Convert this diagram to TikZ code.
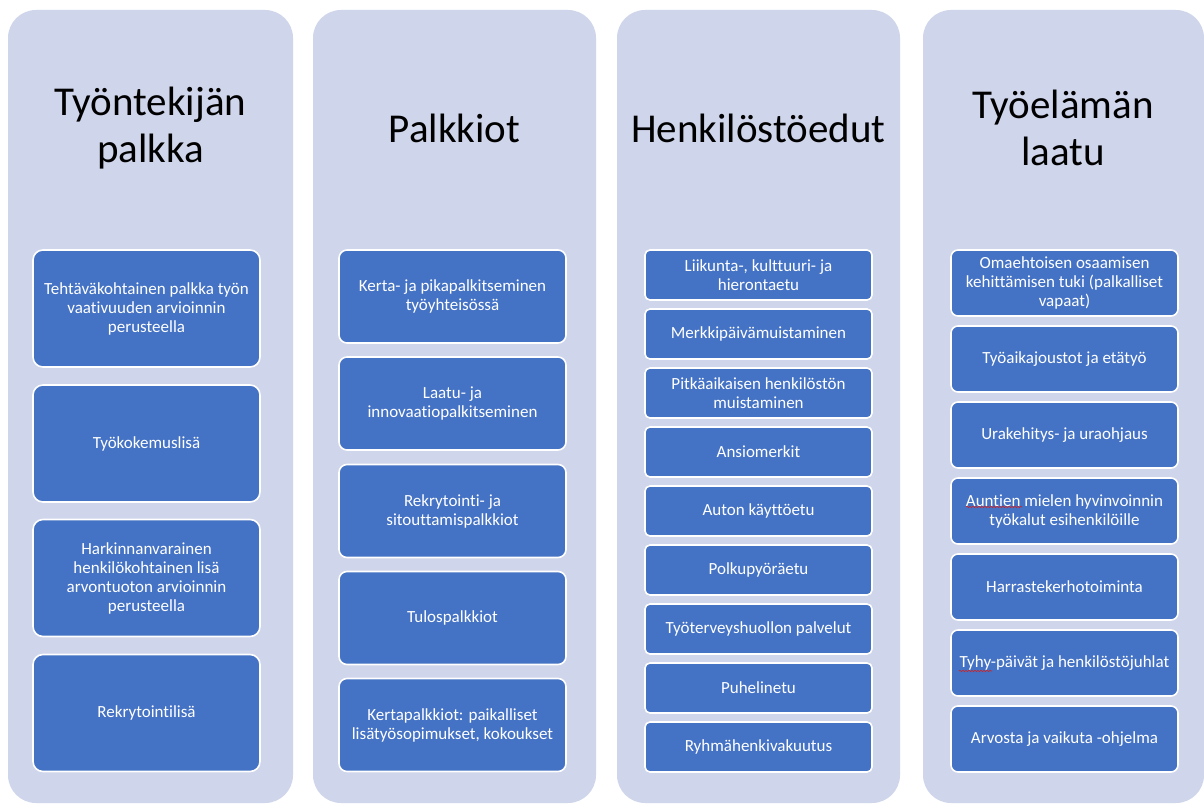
\documentclass[tikz,border=0pt]{standalone}
\usepackage{fontspec}
\setmainfont{Carlito}[Ligatures=NoCommon]
\usetikzlibrary{decorations.pathmorphing}
\definecolor{colbg}{HTML}{CFD5EA}
\definecolor{boxblue}{HTML}{4472C4}
\definecolor{spellred}{HTML}{D02020}
\tikzset{
  colbox/.style={fill=colbg, rounded corners=28pt},
  head/.style={align=center, text=black, font=\fontsize{41}{47}\selectfont, inner sep=0pt},
  bx/.style={draw=white, line width=1.6pt, fill=boxblue, text=white, align=center,
     font=\fontsize{17}{19}\selectfont, inner sep=0pt, minimum width=227pt},
  bxA/.style={bx, minimum height=117pt, rounded corners=10pt},
  bxB/.style={bx, minimum height=93pt, rounded corners=8pt},
  bxC/.style={bx, minimum height=50pt, rounded corners=5pt},
  bxD/.style={bx, minimum height=66pt, rounded corners=7pt},
  squig/.style={spellred, line width=0.6pt, decorate, decoration={snake, amplitude=0.7pt, segment length=3pt}}
}
\begin{document}
\begin{tikzpicture}[x=1pt,y=-1pt]
\useasboundingbox (0,0) rectangle (1204,805);
\fill[white] (0,0) rectangle (1204,805);
% columns
\path[colbox] (8,10) rectangle (293,803);
\path[colbox] (313,10) rectangle (596,803);
\path[colbox] (617,10) rectangle (900,803);
\path[colbox] (923,10) rectangle (1204,803);
% headings
\node[head] (h1) at (150.5,128) {Työntekijän\\palkka};
\node[head] (h2) at (454.5,128) {Palkkiot};
\node[head] (h3) at (758.5,128) {Henkilöstöedut};
\node[head] (h4) at (1063,128) {Työelämän\\laatu};
% column 1
\node[bxA] (a1) at (146.5,308.5) {Tehtäväkohtainen palkka työn\\vaativuuden arvioinnin\\perusteella};
\node[bxA] (a2) at (146.5,443.5) {Työkokemuslisä};
\node[bxA] (a3) at (146.5,578) {Harkinnanvarainen\\henkilökohtainen lisä\\arvontuoton arvioinnin\\perusteella};
\node[bxA] (a4) at (146.5,713) {Rekrytointilisä};
% column 2
\node[bxB] (b1) at (452.5,296.5) {Kerta- ja pikapalkitseminen\\työyhteisössä};
\node[bxB] (b2) at (452.5,403.5) {Laatu- ja\\innovaatiopalkitseminen};
\node[bxB] (b3) at (452.5,511) {Rekrytointi- ja\\sitouttamispalkkiot};
\node[bxB] (b4) at (452.5,618) {Tulospalkkiot};
\node[bxB] (b5) at (452.5,725) {Kertapalkkiot: paikalliset\\lisätyösopimukset, kokoukset};
% column 3
\node[bxC] (c1) at (758.5,275) {Liikunta-, kulttuuri- ja\\hierontaetu};
\node[bxC] (c2) at (758.5,334) {Merkkipäivämuistaminen};
\node[bxC] (c3) at (758.5,393) {Pitkäaikaisen henkilöstön\\muistaminen};
\node[bxC] (c4) at (758.5,452) {Ansiomerkit};
\node[bxC] (c5) at (758.5,511) {Auton käyttöetu};
\node[bxC] (c6) at (758.5,570) {Polkupyöräetu};
\node[bxC] (c7) at (758.5,629) {Työterveyshuollon palvelut};
\node[bxC] (c8) at (758.5,688) {Puhelinetu};
\node[bxC] (c9) at (758.5,747) {Ryhmähenkivakuutus};
% column 4
\node[bxD] (d1) at (1064.5,283) {Omaehtoisen osaamisen\\kehittämisen tuki (palkalliset\\vapaat)};
\node[bxD] (d2) at (1064.5,359) {Työaikajoustot ja etätyö};
\node[bxD] (d3) at (1064.5,435) {Urakehitys- ja uraohjaus};
\node[bxD] (d4) at (1064.5,511) {Auntien mielen hyvinvoinnin\\työkalut esihenkilöille};
\node[bxD] (d5) at (1064.5,587) {Harrastekerhotoiminta};
\node[bxD] (d6) at (1064.5,663) {Tyhy-päivät ja henkilöstöjuhlat};
\node[bxD] (d7) at (1064.5,739) {Arvosta ja vaikuta -ohjelma};
% spell-check marks
\draw[squig] (966,507) -- (1022,507);
\draw[squig] (959,671) -- (992,671);
\end{tikzpicture}
\end{document}
